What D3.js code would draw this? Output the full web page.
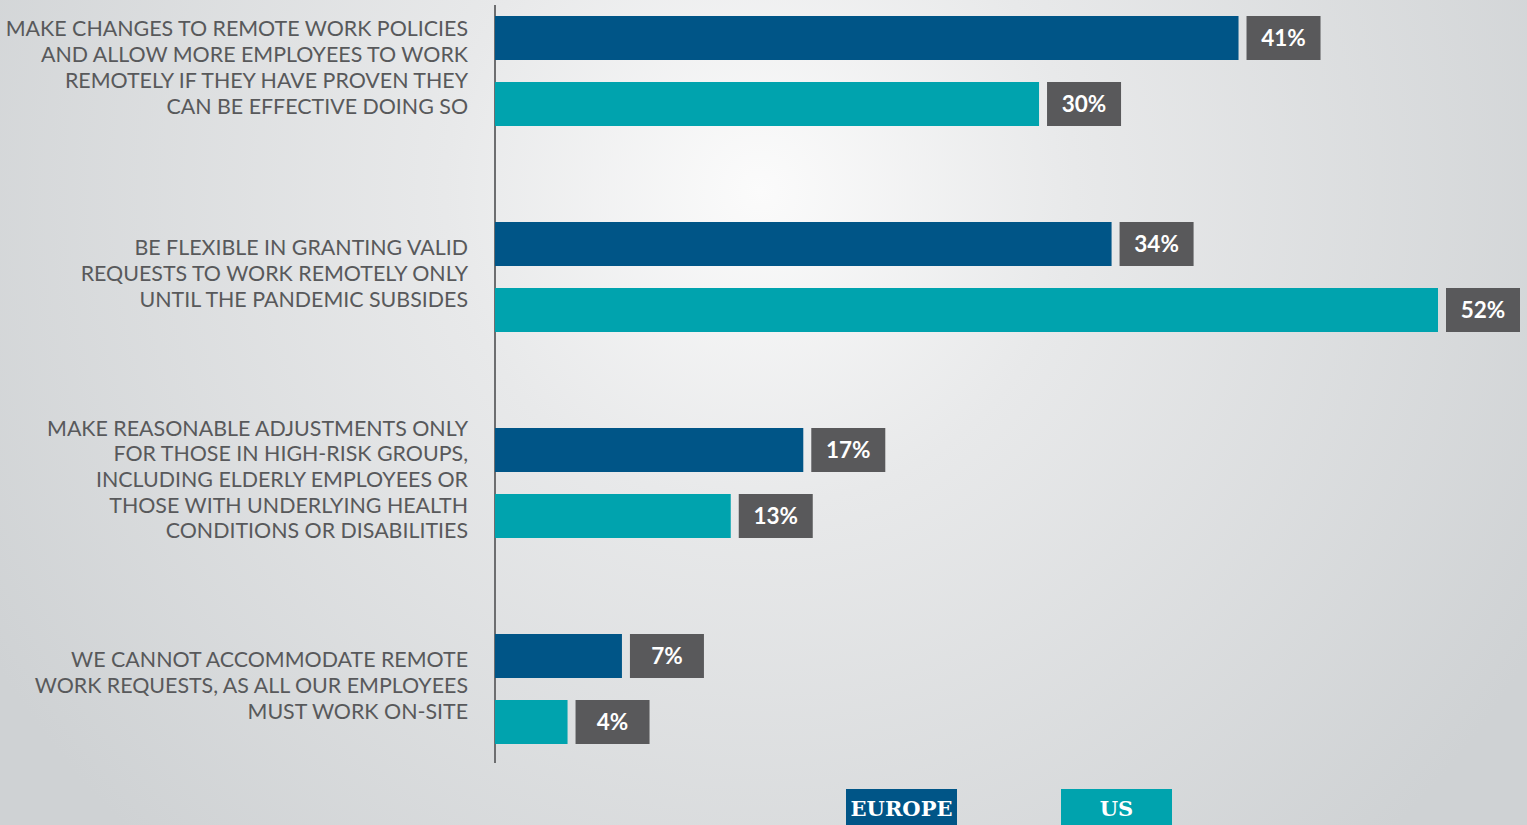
<!DOCTYPE html>
<html>
<head>
<meta charset="utf-8">
<script src="https://cdn.jsdelivr.net/npm/d3@7"></script>
<style>
  html, body { margin: 0; padding: 0; overflow: hidden; }
  svg { display: block; }
</style>
</head>
<body>
<svg id="chart" width="1527" height="825"></svg>
<script>
// Survey responses: how employers plan to handle remote work requests
const categories = [
  ["MAKE CHANGES TO REMOTE WORK POLICIES", "AND ALLOW MORE EMPLOYEES TO WORK", "REMOTELY IF THEY HAVE PROVEN THEY", "CAN BE EFFECTIVE DOING SO"],
  ["BE FLEXIBLE IN GRANTING VALID", "REQUESTS TO WORK REMOTELY ONLY", "UNTIL THE PANDEMIC SUBSIDES"],
  ["MAKE REASONABLE ADJUSTMENTS ONLY", "FOR THOSE IN HIGH-RISK GROUPS,", "INCLUDING ELDERLY EMPLOYEES OR", "THOSE WITH UNDERLYING HEALTH", "CONDITIONS OR DISABILITIES"],
  ["WE CANNOT ACCOMMODATE REMOTE", "WORK REQUESTS, AS ALL OUR EMPLOYEES", "MUST WORK ON-SITE"]
];
const seriesNames = ["EUROPE", "US"];
const europeValues = [41, 34, 17, 7];
const usValues = [30, 52, 13, 4];
const seriesColors = ["#005587", "#00a3ae"];

const W = 1527, H = 825;
const svg = d3.select("#chart");

// Background: soft radial light
const defs = svg.append("defs");
const grad = defs.append("radialGradient")
  .attr("id", "bg").attr("gradientUnits", "userSpaceOnUse")
  .attr("cx", 760).attr("cy", 190).attr("r", 900);
grad.append("stop").attr("offset", "0%").attr("stop-color", "#fbfbfb");
grad.append("stop").attr("offset", "35%").attr("stop-color", "#e8e9ea");
grad.append("stop").attr("offset", "100%").attr("stop-color", "#cfd2d4");
svg.append("rect").attr("width", W).attr("height", H).attr("fill", "url(#bg)");

const groupIds = d3.range(categories.length);
const rows = groupIds.map(i => ({ id: i, lines: categories[i], values: [europeValues[i], usValues[i]] }));

const x = d3.scaleLinear().domain([0, 52]).range([495, 1438]);
const y = d3.scaleBand().domain(groupIds).range([16, 16 + 4 * 206]).paddingInner(0).paddingOuter(0);
const ySub = d3.scaleBand().domain(d3.range(seriesNames.length)).range([0, 110]).paddingInner(1 / 3).paddingOuter(0);

// Vertical baseline
svg.append("line")
  .attr("x1", x(0)).attr("x2", x(0))
  .attr("y1", 5).attr("y2", 763)
  .attr("stroke", "#6d6e70").attr("stroke-width", 2);

const groups = svg.selectAll("g.grp").data(rows).join("g")
  .attr("class", "grp")
  .attr("transform", d => `translate(0,${y(d.id)})`);

// Category labels, right-aligned, vertically centred on the pair of bars
const lineH = 25.7;
groups.append("text")
  .attr("text-anchor", "end")
  .attr("font-family", "Lato, 'Open Sans', sans-serif")
  .attr("font-size", 21.4)
  .attr("fill", "#58595b")
  .each(function (d) {
    const n = d.lines.length;
    const mid = 55;
    const first = mid - (n - 1) * lineH / 2 + 4;
    d3.select(this).selectAll("tspan").data(d.lines).join("tspan")
      .attr("x", 468)
      .attr("y", (l, k) => first + k * lineH)
      .text(l => l);
  });

// Bars and value tags
const bars = groups.selectAll("g.bar").data(d => d.values.map((v, s) => ({ v, s }))).join("g")
  .attr("class", "bar")
  .attr("transform", d => `translate(0,${ySub(d.s)})`);

bars.append("rect")
  .attr("x", x(0))
  .attr("y", 0)
  .attr("width", d => x(d.v) - x(0))
  .attr("height", ySub.bandwidth())
  .attr("fill", d => seriesColors[d.s]);

const tagW = 74, tagGap = 8;
bars.append("rect")
  .attr("x", d => x(d.v) + tagGap)
  .attr("y", 0)
  .attr("width", tagW)
  .attr("height", ySub.bandwidth())
  .attr("fill", "#59595b");

bars.append("text")
  .attr("x", d => x(d.v) + tagGap + tagW / 2)
  .attr("y", ySub.bandwidth() / 2 + 8)
  .attr("text-anchor", "middle")
  .attr("font-family", "Lato, 'Open Sans', sans-serif")
  .attr("font-weight", 700)
  .attr("font-size", 22.5)
  .attr("fill", "#ffffff")
  .text(d => d.v + "%");

// Legend
const legendX = d3.scaleOrdinal().domain(seriesNames).range([846, 1061]);
const legend = svg.selectAll("g.leg").data(seriesNames).join("g")
  .attr("class", "leg")
  .attr("transform", d => `translate(${legendX(d)},789)`);
legend.append("rect")
  .attr("width", 111).attr("height", 40)
  .attr("fill", (d, i) => seriesColors[i]);
legend.append("text")
  .attr("x", 55.5).attr("y", 27)
  .attr("text-anchor", "middle")
  .attr("font-family", "'DejaVu Serif', 'Liberation Serif', serif")
  .attr("font-weight", 700)
  .attr("font-size", 21)
  .attr("fill", "#ffffff")
  .text(d => d);
</script>
</body>
</html>
